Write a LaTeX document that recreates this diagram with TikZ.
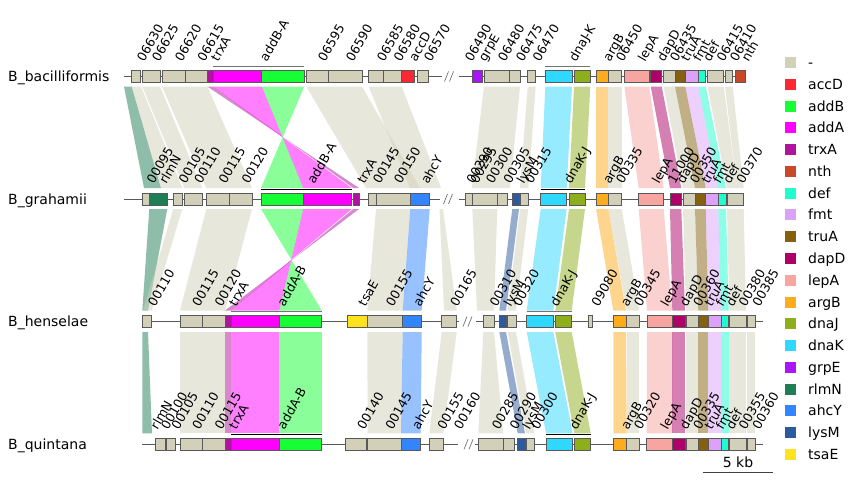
\documentclass[tikz,border=0pt]{standalone}
\usepackage{fontspec}
\setmainfont{DejaVu Sans}
\definecolor{cN}{RGB}{211,208,186}
\definecolor{caccD}{RGB}{250,40,50}
\definecolor{caddB}{RGB}{22,255,52}
\definecolor{caddA}{RGB}{255,0,255}
\definecolor{ctrxA}{RGB}{176,20,158}
\definecolor{cnth}{RGB}{200,72,40}
\definecolor{cdef}{RGB}{30,255,208}
\definecolor{cfmt}{RGB}{220,162,250}
\definecolor{ctruA}{RGB}{133,96,15}
\definecolor{cdapD}{RGB}{175,0,105}
\definecolor{clepA}{RGB}{248,165,162}
\definecolor{cargB}{RGB}{255,172,28}
\definecolor{cdnaJ}{RGB}{143,174,27}
\definecolor{cdnaK}{RGB}{47,216,255}
\definecolor{cgrpE}{RGB}{170,20,247}
\definecolor{crlmN}{RGB}{30,126,85}
\definecolor{cahcY}{RGB}{50,132,255}
\definecolor{clysM}{RGB}{45,90,158}
\definecolor{ctsaE}{RGB}{255,226,30}
\newcommand\mygenes[2]{\foreach \a/\b/\c in {#2} \draw[gbox,fill=\c] (\a,#1-5.8) rectangle (\b,#1+5.8);}
\newcommand\mylabels[3]{\foreach \x/\t [count=\i] in {#3} \node[glab] (#1\i) at ({\x+10},#2) {\t};}
\newcommand\mylinks[3]{\foreach \c/\a/\b/\p/\q in {#3} \fill[\c,lk] (\a,#1)--(\b,#1)--(\q,#2)--(\p,#2)--cycle;}
\newcommand\myilinks[3]{\foreach \c/\a/\b/\p/\q in {#3} \fill[\c,lk] (\a,#1)--(\b,#1)--(\p,#2)--(\q,#2)--cycle;}
\newcommand\myslash[2]{\draw[black!55,line width=0.7pt] (#1-4.5,#2+5)--(#1-0.5,#2-5) (#1+0.5,#2+5)--(#1+4.5,#2-5);}
\begin{document}
\begin{tikzpicture}[x=1pt,y=-1pt,
  gbox/.style={draw=black!65,line width=0.6pt},
  tline/.style={draw=black!65,line width=0.8pt},
  glab/.style={rotate=60,anchor=south west,inner sep=0pt,text height=.73em,text depth=.2em,font=\fontsize{12.5}{14}\selectfont},
  tlab/.style={anchor=base west,inner sep=0pt,font=\fontsize{14}{16}\selectfont},
  lk/.style={opacity=.5},
  brk/.style={line width=1.1pt}]
\fill[white] (0,0) rectangle (864,482);
\useasboundingbox (0,0) rectangle (864,482);

% ---------------- links 1 -> 2
\mylinks{86.5}{188}{crlmN/124/131.7/144/161, cN/131.7/141/161/182.3, cN/142.3/160/184.3/202.3, cN/162/185.7/206.3/229.3, cN/185.7/207.3/229.3/252,
 cN/306.3/328/366/380, cN/328/362/380/420, cN/368.7/401.7/410/441,
 cN/484/509.7/471.7/498, cN/509.7/520/498/510, cN/527.7/535.7/520/528.3, cdnaK/545.3/572/540.7/566.7, cdnaJ/574/590.3/569/585,
 cargB/596/608.3/596/608.3, cN/608.3/621.7/608.3/621.7, clepA/624.3/649.3/638.7/663.7, cdapD/650.7/661.7/670/681.3,
 cN/663.7/675/683/695, ctruA/675/685.3/695/705.7, cfmt/685.3/698.3/705.7/718.3, cdef/698.3/705.7/718.3/726,
 cN/707.7/723.7/727/737, cN/725/732.7/737/743.7}
\myilinks{86.5}{188}{caddB/261.7/304.3/261/303.3, caddA/213.3/261.7/303.3/351.7, ctrxA/207.3/213.3/353.3/359}

% ---------------- links 2 -> 3
\mylinks{209}{310.5}{crlmN/149.3/167.3/142.3/148, cN/173.3/182.3/143/151.7, cN/206.3/229.3/180/202.7, cN/229.3/252/202.7/225,
 cN/376/410.3/367.3/402.7, cahcY/410.3/429.7/402.7/421.7, cN/439.5/443/444/456.7,
 cN/472.3/497.3/477/494, clysM/512.3/519/499.3/506, cN/520/528.3/507.7/516, cdnaK/540.7/566.7/526.7/553.3, cdnaJ/569/585/555.3/571.7,
 cargB/596/608.3/613.3/626, cN/608.3/621.7/626.7/639.3, clepA/638.7/663.7/647/672.3, cdapD/670/681.3/672.3/685,
 cN/683/695/686/698.3, ctruA/695/705.7/698.3/708.3, cfmt/705.7/718.3/708.3/721, cdef/718.3/726/721/728.7, cN/727/743.7/729.3/746}
\myilinks{209}{310.5}{caddB/261/303.3/279.3/321.7, caddA/303.3/351.7/231/279.3, ctrxA/353.3/359/225/231}

% ---------------- links 3 -> 4
\mylinks{332}{433.3}{crlmN/142.3/148/142.3/152, cN/180/202.7/180/202.7, cN/202.7/225/202.7/225, ctrxA/225/231/225/231,
 caddA/231/279.3/231/279.3, caddB/279.3/321.7/279.3/321.7, cN/367.3/402.7/367.7/401, cahcY/402.7/421.7/401/420.7,
 cN/441.7/456.7/429.3/443.3, cN/483.3/494/478.3/503.3, clysM/499.3/506/517.7/525, cN/507.7/516/526/534.3,
 cdnaK/526.7/553.3/546/572.7, cdnaJ/555.3/571.7/574.3/590.7, cargB/613.3/626/613.3/626.7, cN/626.7/639.3/626.7/639.3,
 clepA/647/672.3/646.7/672.3, cdapD/672.3/685/672.3/685, cN/686/698.3/686/698.3, ctruA/698.3/708.3/698.3/708.3,
 cfmt/708.3/721/708.3/721, cdef/721/728.7/721/728.7, cN/729.3/746/729.3/746, cN/747.3/755.3/747.3/755.3}

% ---------------- track lines
\draw[tline] (124,76.5)--(441.7,76.5) (459,76.5)--(745.7,76.5);
\myslash{449}{76.5}
\draw[tline] (124,199)--(440,199) (459,199)--(744,199);
\myslash{448}{199}
\draw[tline] (142.3,321.5)--(459,321.5) (476,321.5)--(763.3,321.5);
\myslash{467.5}{321.5}
\draw[tline] (142.3,444.3)--(458,444.3) (475,444.3)--(763.3,444.3);
\myslash{468.5}{444.3}

% ---------------- genes
\mygenes{76.5}{131/140.7/cN, 142.3/160/cN, 162/185.7/cN, 185.7/207.3/cN, 207.3/213.3/ctrxA, 213.3/261.7/caddA, 261.7/304.3/caddB,
 306.3/328/cN, 328/362/cN, 368.7/383.7/cN, 383.7/401.7/cN, 401.7/414/caccD, 417.3/428.3/cN, 472.7/482.3/cgrpE, 484/509.7/cN,
 509.7/520/cN, 527.7/535.7/cN, 545.3/572/cdnaK, 574/590.3/cdnaJ, 596/608.3/cargB, 608.3/621.7/cN, 624.3/649.3/clepA,
 650.7/661.7/cdapD, 663.7/675/cN, 675/685.3/ctruA, 685.3/698.3/cfmt, 698.3/705.7/cdef, 707.7/723.7/cN, 725/732.7/cN, 735/745.7/cnth}
\mygenes{199}{142.3/149.3/cN, 149.3/167.3/crlmN, 173.3/182.3/cN, 184.3/202.3/cN, 206.3/229.3/cN, 229.3/252/cN, 261/303.3/caddB,
 303.3/351.7/caddA, 353.3/359/ctrxA, 368.3/376/cN, 376/410.3/cN, 410.3/429.7/cahcY, 465/472.3/cN, 472.3/497.3/cN, 497.3/507.7/cN,
 512.3/519/clysM, 520/528.3/cN, 540.7/566.7/cdnaK, 569/585/cdnaJ, 596/608.3/cargB, 608.3/621.7/cN, 638.7/663.7/clepA,
 670/681.3/cdapD, 683/695/cN, 695/705.7/ctruA, 705.7/718.3/cfmt, 718.3/726/cdef, 727/743.7/cN}
\mygenes{321.5}{142.3/151.7/cN, 180/202.7/cN, 202.7/225/cN, 225/231/ctrxA, 231/279.3/caddA, 279.3/321.7/caddB, 347/367.3/ctsaE,
 367.3/402.7/cN, 402.7/421.7/cahcY, 441.7/456.7/cN, 483.3/494/cN, 499.3/506/clysM, 507.7/516/cN, 526.7/553.3/cdnaK,
 555.3/571.7/cdnaJ, 588.3/592.3/cN, 613.3/626/cargB, 626.7/639.3/cN, 647/672.3/clepA, 672.3/685/cdapD, 686/698.3/cN,
 698.3/708.3/ctruA, 708.3/721/cfmt, 721/728.7/cdef, 729.3/746/cN, 747.3/755.3/cN}
\mygenes{444.3}{155/165.3/cN, 166/175/cN, 180/202.7/cN, 202.7/225/cN, 225/231/ctrxA, 231/279.3/caddA, 279.3/321.7/caddB,
 345.7/366.7/cN, 367.7/401/cN, 401/420.7/cahcY, 429.3/443.3/cN, 478.3/503.3/cN, 503.3/514/cN, 517.7/525/clysM, 526/534.3/cN,
 546/572.7/cdnaK, 574.3/590.7/cdnaJ, 613.3/626.7/cargB, 626.7/639.3/cN, 646.7/672.3/clepA, 672.3/685/cdapD, 686/698.3/cN,
 698.3/708.3/ctruA, 708.3/721/cfmt, 721/728.7/cdef, 729.3/746/cN, 747.3/755.3/cN}

% ---------------- brackets
\draw[brk,black!55] (213.3,66.7)--(304.3,66.7) (545.3,66.7)--(590.3,66.7);
\draw[brk,black] (261,189.2)--(351.7,189.2) (540.7,189.2)--(585,189.2);
\draw[brk,black!55] (231,311.7)--(321.7,311.7) (526.7,311.7)--(571.7,311.7);
\draw[brk,black] (231,434.5)--(321.7,434.5) (546,434.5)--(590.7,434.5);

% ---------------- gene labels
\mylabels{ta}{63.5}{136/06630, 151/06625, 174/06620, 196.5/06615, 210/trxA, 258.8/addB-A, 317/06595, 345/06590, 376/06585,
 392.7/06580, 407.8/accD, 422.8/06570, 464/06490, 477.5/grpE, 497/06480, 515/06475, 531.7/06470, 567.8/dnaJ-K, 602/argB,
 615/06450, 636.8/lepA, 656/dapD, 669/06435, 680/truA, 692/fmt, 702/def, 715.7/06415, 729/06410, 740.3/nth}
\mylabels{tb}{186}{145.8/00095, 158.3/rlmN, 177.8/00105, 193.3/00110, 217.8/00115, 240.7/00120, 306.3/addB-A, 356.2/trxA,
 372/00145, 393/00150, 420/ahcY, 465.5/00290, 469.5/00295, 485/00300, 502.5/00305, 515.7/lysM, 524/00315, 562.8/dnaK-J,
 602/argB, 615/00335, 651/lepA, 666.8/11000, 675.6/dapD, 689/00350, 700.3/truA, 712/fmt, 722/def, 735.3/00370}
\mylabels{tc}{308.5}{147/00110, 191.3/00115, 213.8/00120, 228/trxA, 276.3/addA-B, 357.2/tsaE, 385/00155, 412.2/ahcY,
 449.2/00165, 488.7/00310, 502.7/lysM, 511.8/00320, 549.2/dnaK-J, 590.3/09080, 619.7/argB, 633/00345, 659.7/lepA,
 678.7/dapD, 692.2/00360, 703.3/truA, 714.7/fmt, 724.8/def, 737.7/00380, 751.3/00385}
\mylabels{td}{431.3}{149.5/rlmN, 160/00100, 170.5/00105, 191.3/00110, 213.8/00115, 228/trxA, 276.3/addA-B, 356.2/00140,
 384.3/00145, 410.8/ahcY, 436.3/00155, 453/00160, 490.8/00285, 508.7/00290, 521.3/lysM, 530.2/00300, 568.3/dnaK-J,
 620/argB, 633/00320, 659.5/lepA, 678.7/dapD, 692.2/00335, 703.3/truA, 714.7/fmt, 724.8/def, 737.7/00355, 751.3/00360}

% ---------------- track labels
\node[tlab] (n1) at (8,81.5) {B\_bacilliformis};
\node[tlab] (n2) at (8,204) {B\_grahamii};
\node[tlab] (n3) at (8,326.5) {B\_henselae};
\node[tlab] (n4) at (8,449.3) {B\_quintana};

% ---------------- legend
\foreach \c/\t [count=\i] in {cN/-, caccD/accD, caddB/addB, caddA/addA, ctrxA/trxA, cnth/nth, cdef/def, cfmt/fmt, ctruA/truA,
 cdapD/dapD, clepA/lepA, cargB/argB, cdnaJ/dnaJ, cdnaK/dnaK, cgrpE/grpE, crlmN/rlmN, cahcY/ahcY, clysM/lysM, ctsaE/tsaE}{
  \fill[\c] (784.5,{62.5+(\i-1)*21.78-5.5}) rectangle ++(11,11);
  \node[tlab] (lg\i) at (808,{62.5+(\i-1)*21.78+5}) {\t};
}

% ---------------- scale bar
\coordinate (sb1) at (703,472.5);
\coordinate (sb2) at (773,472.5);
\draw[black!75,line width=1pt] (sb1)--(sb2);
\node[anchor=base,inner sep=0pt,font=\fontsize{14}{16}\selectfont] (sbl) at (738,467) {5 kb};
\end{tikzpicture}
\end{document}
